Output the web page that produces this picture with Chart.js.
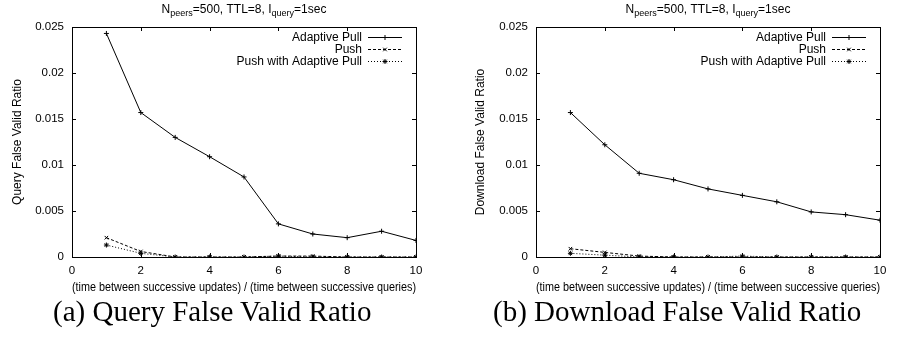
<!DOCTYPE html>
<html>
<head>
<meta charset="utf-8">
<script src="https://cdn.jsdelivr.net/npm/chart.js@4/dist/chart.umd.min.js"></script>
<style>
  html, body { margin: 0; padding: 0; background: #fff; }
  body { width: 901px; height: 342px; position: relative; overflow: hidden; }
  .wrap { position: absolute; top: 0; height: 300px; }
  .cap { position: absolute; top: 295px; font-family: "Liberation Serif", "Times New Roman", serif; font-size: 29px; line-height: 33px; color: #000; white-space: nowrap; }
</style>
</head>
<body>
<div class="wrap" style="left:0;width:450px;"><canvas id="c1"></canvas></div>
<div class="wrap" style="left:450px;width:451px;"><canvas id="c2"></canvas></div>
<div class="cap" style="left:53px;">(a) Query False Valid Ratio</div>
<div class="cap" style="left:493px;">(b) Download False Valid Ratio</div>
<script>
// ---- data ----
const ratioValues = [1, 2, 3, 4, 5, 6, 7, 8, 9, 10];
const xTicks = [0, 2, 4, 6, 8, 10];
const yTicks = [0, 0.005, 0.01, 0.015, 0.02, 0.025];
const seriesNames = ["Adaptive Pull", "Push", "Push with Adaptive Pull"];

const queryAdaptivePull = [0.0243, 0.0157, 0.0130, 0.0109, 0.0087, 0.0036, 0.0025, 0.0021, 0.0028, 0.0018];
const queryPush         = [0.0021, 0.0006, 0.0000, 0.0000, 0.0000, 0.0001, 0.0001, 0.0000, 0.0000, 0.0000];
const queryPushAP       = [0.0013, 0.0004, 0.0000, 0.0000, 0.0000, 0.0001, 0.0000, 0.0000, 0.0000, 0.0000];

const downloadAdaptivePull = [0.0157, 0.0122, 0.0091, 0.0084, 0.0074, 0.0067, 0.0060, 0.0049, 0.0046, 0.0040];
const downloadPush         = [0.0009, 0.0005, 0.0001, 0.0000, 0.0000, 0.0000, 0.0000, 0.0000, 0.0000, 0.0000];
const downloadPushAP       = [0.0004, 0.0002, 0.0000, 0.0000, 0.0000, 0.0001, 0.0000, 0.0000, 0.0000, 0.0000];

const yTitles = ["Query False Valid Ratio", "Download False Valid Ratio"];
const xTitle = "(time between successive updates) / (time between successive queries)";

// ---- styling ----
const FONT = "'Liberation Sans', Arial, Helvetica, sans-serif";
const INK = "#000";
const dashStyles = [[], [3, 2], [1, 2]];
const pointStyles = ["cross", "crossRot", "star"];

function pts(vals) { return ratioValues.map((x, i) => ({ x: x, y: vals[i] })); }

// gnuplot-like frame, inward ticks, title and legend
const gnuplotPlugin = {
  id: "gnuplot",
  afterDatasetsDraw(chart) {
    const { ctx, chartArea: a, scales } = chart;
    const xs = scales.x, ys = scales.y;
    ctx.save();
    ctx.strokeStyle = INK;
    ctx.lineWidth = 1;
    ctx.setLineDash([]);
    // frame
    ctx.strokeRect(Math.round(a.left) + 0.5, Math.round(a.top) + 0.5, Math.round(a.right - a.left), Math.round(a.bottom - a.top));
    const tl = 4;
    ctx.beginPath();
    xTicks.forEach(v => {
      const px = Math.round(xs.getPixelForValue(v)) + 0.5;
      ctx.moveTo(px, a.bottom); ctx.lineTo(px, a.bottom - tl);
      ctx.moveTo(px, a.top); ctx.lineTo(px, a.top + tl);
    });
    yTicks.forEach(v => {
      const py = Math.round(ys.getPixelForValue(v)) + 0.5;
      ctx.moveTo(a.left, py); ctx.lineTo(a.left + tl, py);
      ctx.moveTo(a.right, py); ctx.lineTo(a.right - tl, py);
    });
    ctx.stroke();

    // title with subscripts
    const cx = (a.left + a.right) / 2;
    const parts = [["N", 0], ["peers", 1], ["=500, TTL=8, I", 0], ["query", 1], ["=1sec", 0]];
    const big = "12px " + FONT, small = "9px " + FONT;
    let w = 0;
    parts.forEach(p => { ctx.font = p[1] ? small : big; w += ctx.measureText(p[0]).width; });
    let x = cx - w / 2;
    const base = 12.5;
    ctx.fillStyle = INK;
    ctx.textBaseline = "alphabetic";
    ctx.textAlign = "left";
    parts.forEach(p => {
      ctx.font = p[1] ? small : big;
      ctx.fillText(p[0], x, p[1] ? base + 3 : base);
      x += ctx.measureText(p[0]).width;
    });

    // legend (text right-aligned, then sample)
    const sx1 = a.right - 48, sx2 = a.right - 14;
    chart.data.datasets.forEach((ds, i) => {
      const yy = Math.round(a.top + 10 + i * 12.2) + 0.5;
      ctx.font = big;
      ctx.textAlign = "right";
      ctx.textBaseline = "middle";
      ctx.fillStyle = INK;
      ctx.fillText(ds.label, sx1 - 6, yy);
      ctx.beginPath();
      ctx.setLineDash(ds.borderDash || []);
      ctx.moveTo(sx1, yy); ctx.lineTo(sx2, yy);
      ctx.stroke();
      ctx.setLineDash([]);
      Chart.helpers.drawPoint(ctx, { pointStyle: ds.pointStyle, radius: 2.5, rotation: 0, borderWidth: 1 }, (sx1 + sx2) / 2, yy);
    });
    ctx.restore();
  }
};

function makeChart(id, series, yTitle, yAxisW, padR, yTitlePad) {
  const datasets = series.map((vals, i) => ({
    label: seriesNames[i],
    data: pts(vals),
    borderColor: INK,
    backgroundColor: INK,
    borderWidth: 1,
    borderDash: dashStyles[i],
    pointStyle: pointStyles[i],
    pointRadius: 2.5,
    pointBorderWidth: 1,
    pointBorderColor: INK,
    pointBackgroundColor: INK,
    tension: 0,
    fill: false
  }));
  return new Chart(document.getElementById(id), {
    type: "line",
    data: { datasets },
    options: {
      responsive: true,
      maintainAspectRatio: false,
      animation: false,
      devicePixelRatio: 1,
      layout: { padding: { left: 0, right: padR, top: 27, bottom: 3 } },
      plugins: { legend: { display: false }, title: { display: false }, tooltip: { enabled: false } },
      scales: {
        x: {
          type: "linear", min: 0, max: 10,
          afterBuildTicks: s => { s.ticks = xTicks.map(v => ({ value: v })); },
          afterFit: s => { s.height = 40; },
          grid: { display: false, drawTicks: false },
          border: { display: false },
          ticks: { color: INK, padding: 7, font: { family: FONT, size: 11.5 }, maxRotation: 0, callback: v => String(v) },
          title: { display: true, text: xTitle, color: INK, font: { family: FONT, size: 12 }, padding: { top: 0, bottom: 2 } }
        },
        y: {
          type: "linear", min: 0, max: 0.025,
          afterBuildTicks: s => { s.ticks = yTicks.map(v => ({ value: v })); },
          afterFit: s => { s.width = yAxisW; },
          grid: { display: false, drawTicks: false },
          border: { display: false },
          ticks: { color: INK, padding: 8, font: { family: FONT, size: 11.5 }, callback: v => String(+v.toFixed(3)) },
          title: { display: true, text: yTitle, color: INK, font: { family: FONT, size: 12 }, padding: { top: yTitlePad, bottom: 0 } }
        }
      }
    },
    plugins: [gnuplotPlugin]
  });
}

makeChart("c1", [queryAdaptivePull, queryPush, queryPushAP], yTitles[0], 72, 34, 10);
makeChart("c2", [downloadAdaptivePull, downloadPush, downloadPushAP], yTitles[1], 86, 21, 23);
</script>
</body>
</html>
